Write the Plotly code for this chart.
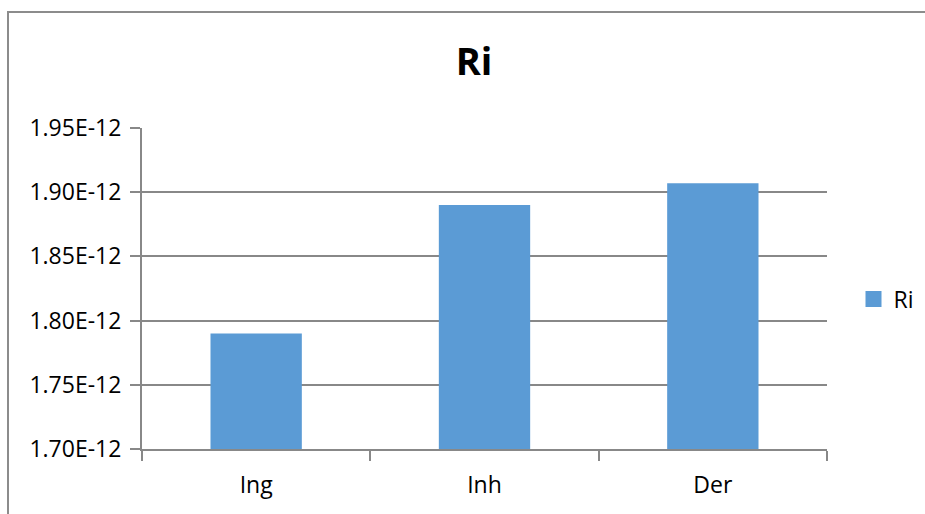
import plotly.graph_objects as go

categories = ["Ing", "Inh", "Der"]
values = [1.790e-12, 1.890e-12, 1.907e-12]
y_tickvals = [1.70e-12, 1.75e-12, 1.80e-12, 1.85e-12, 1.90e-12, 1.95e-12]
y_ticktext = ["1.70E-12", "1.75E-12", "1.80E-12", "1.85E-12", "1.90E-12", "1.95E-12"]

FONT = "Open Sans"
GRAY = "#888888"
BLUE = "#5B9BD5"

fig = go.Figure()
fig.add_trace(go.Bar(x=categories, y=values, name="Ri", marker_color=BLUE,
                     marker_line_width=0, showlegend=False))
# legend entry with a larger square symbol
fig.add_trace(go.Scatter(x=[None], y=[None], mode="markers", name="Ri",
                         marker=dict(symbol="square", size=16, color=BLUE),
                         showlegend=True))

fig.update_layout(
    width=925, height=514,
    margin=dict(l=142, r=98, t=128, b=65, autoexpand=False),
    paper_bgcolor="white", plot_bgcolor="white",
    bargap=0.6,
    showlegend=True,
    title=dict(text="<b>Ri</b>", x=(474 - 142) / 685, xref="paper", xanchor="center",
               y=1 - 62 / 514, yanchor="middle",
               font=dict(family=FONT, size=38, color="black")),
    legend=dict(x=(853.5 - 142) / 685, xanchor="left", y=(449 - 299) / 321, yanchor="middle",
                font=dict(family=FONT, size=23, color="black"),
                itemwidth=30, bgcolor="rgba(0,0,0,0)"),
    font=dict(family=FONT, size=23, color="black"),
)

fig.update_xaxes(
    type="category", showline=True, linecolor=GRAY, linewidth=2,
    ticks="outside", tickson="boundaries", ticklen=10, tickcolor=GRAY, tickwidth=2,
    showgrid=False, tickfont=dict(family=FONT, size=23, color="black"),
    ticklabelstandoff=14,
    range=[-0.5, 2.5],
)
fig.update_yaxes(
    range=[1.70e-12, 1.95e-12], tickvals=y_tickvals, ticktext=y_ticktext,
    showline=True, linecolor=GRAY, linewidth=2,
    ticks="outside", ticklen=10, tickcolor=GRAY, tickwidth=2,
    showgrid=True, gridcolor=GRAY, gridwidth=2, zeroline=False,
    tickfont=dict(family=FONT, size=23, color="black"),
    ticklabelstandoff=4,
)

fig.add_shape(type="rect", xref="paper", yref="paper",
              x0=(8 - 142) / 685, x1=1.2, y0=-0.4, y1=1 + (128 - 12) / 321,
              line=dict(color="#8c8c8c", width=2), fillcolor="rgba(0,0,0,0)", layer="below")

fig.write_html("out.html", config={"displayModeBar": False},
               post_script="document.body.style.margin='0';")
